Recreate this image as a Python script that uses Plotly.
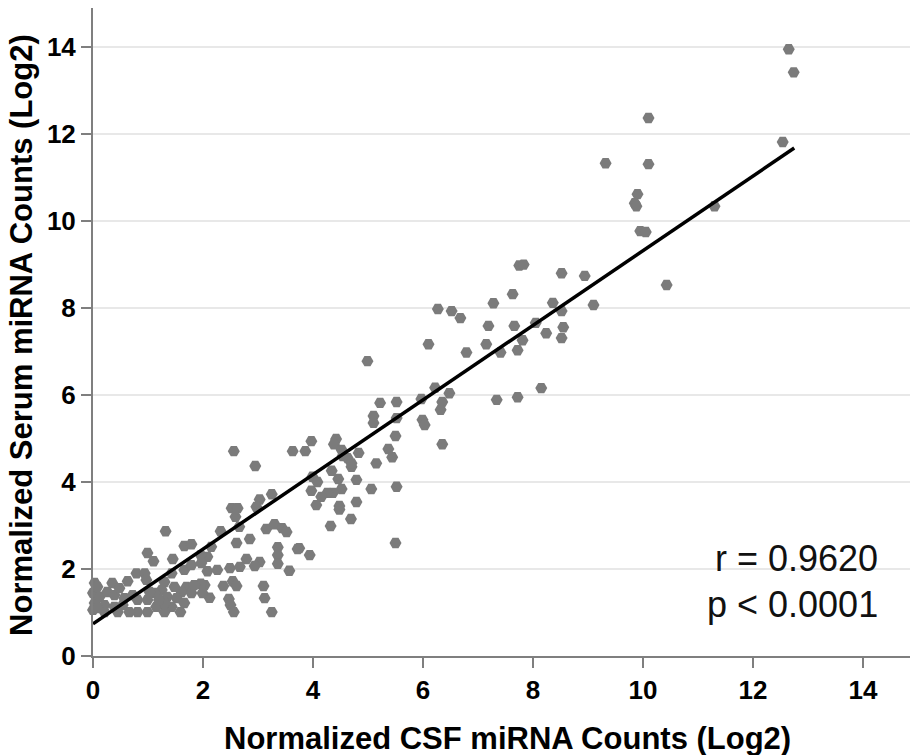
import plotly.graph_objects as go

# Normalized CSF miRNA counts (log2) and serum counts (log2)
csf = [12.65, 12.74, 12.54, 10.10, 9.32, 10.10, 9.90, 9.85, 9.88, 11.30, 9.95, 10.05,
       8.94, 9.10, 10.43, 8.52, 8.52, 8.55, 8.52, 7.75, 7.83, 7.63, 7.28, 8.36, 8.05,
       8.24, 7.19, 7.66, 7.81, 7.15, 7.72, 7.41, 6.79, 6.27, 6.52, 6.68, 6.10, 6.22,
       6.48, 5.97, 6.35, 6.32, 7.34, 7.72, 8.15, 5.99, 6.03, 6.35, 4.99, 5.22, 5.52,
       5.10, 5.10, 5.52, 5.50, 5.37, 5.44, 5.15, 5.52, 5.50, 5.06, 4.79, 4.79, 4.69,
       4.32, 4.48, 4.48, 3.97, 3.86, 4.42, 4.38, 4.52, 4.54, 4.63, 4.70, 4.83, 4.70,
       4.34, 4.46, 4.52, 4.36, 4.26, 4.15, 3.97, 4.06, 3.99, 4.08, 3.75, 3.94, 2.95,
       3.25, 3.03, 2.97, 2.52, 2.63, 2.59, 2.32, 2.66, 2.15, 2.61, 2.85, 3.15, 3.30,
       3.44, 3.52, 3.36, 3.36, 3.72, 2.08, 2.79, 3.03, 3.36, 2.08, 2.26, 2.49, 2.67,
       2.94, 3.57, 2.03, 2.12, 2.37, 2.54, 2.61, 2.47, 2.50, 2.56, 3.10, 3.12, 3.25,
       2.56, 3.63, 1.32, 0.99, 1.10, 1.66, 1.79, 1.45, 1.96,
       0.03, 0.35, 0.63, 0.79, 0.94, 0.97, 1.30, 1.43, 1.66, 1.79, 1.97, 1.96, 1.70,
       1.61, 1.79, 1.25, 1.12, 1.35, 1.52, 1.66, 1.43, 1.59, 1.30, 0.99, 0.81, 0.66,
       0.45, 0.21, 0.00, 0.03, 0.00, 0.12, 0.26, 0.39, 0.48, 0.57, 0.72, 0.81, 0.99,
       1.03, 0.21, 0.39, 0.54, 0.08, 1.15, 1.30, 1.20, 1.99, 1.84, 1.48, 0.08]

serum = [13.95, 13.42, 11.82, 12.37, 11.33, 11.31, 10.62, 10.41, 10.34, 10.34, 9.77, 9.75,
         8.74, 8.07, 8.53, 8.80, 7.93, 7.56, 7.31, 8.98, 9.00, 8.32, 8.11, 8.12, 7.66,
         7.42, 7.59, 7.59, 7.26, 7.17, 7.03, 6.98, 6.98, 7.98, 7.93, 7.77, 7.17, 6.17,
         6.04, 5.91, 5.84, 5.66, 5.89, 5.95, 6.16, 5.43, 5.31, 4.87, 6.78, 5.82, 5.84,
         5.52, 5.36, 5.47, 5.06, 4.76, 4.57, 4.43, 3.89, 2.60, 3.84, 4.05, 3.54, 3.15,
         2.99, 3.45, 3.37, 4.94, 4.71, 4.99, 4.87, 4.74, 4.60, 4.55, 4.35, 4.67, 4.43,
         4.26, 4.07, 3.84, 3.75, 3.75, 3.66, 3.80, 3.47, 4.12, 4.00, 2.48, 2.32, 4.37,
         3.72, 3.60, 3.43, 3.40, 3.40, 3.20, 2.87, 2.97, 2.51, 2.60, 2.69, 2.92, 3.03,
         2.94, 2.85, 2.50, 2.32, 2.46, 2.28, 2.23, 2.16, 2.12, 1.95, 1.98, 2.02, 2.05,
         2.07, 1.96, 1.63, 1.34, 1.61, 1.72, 1.61, 1.31, 1.17, 1.01, 1.61, 1.33, 1.01,
         4.71, 4.71, 2.87, 2.37, 2.18, 2.53, 2.57, 2.23, 2.32,
         1.68, 1.68, 1.72, 1.90, 1.90, 1.75, 1.70, 1.90, 1.98, 2.09, 2.14, 1.66, 1.59,
         1.47, 1.45, 1.52, 1.45, 1.36, 1.33, 1.22, 1.13, 1.01, 1.01, 1.01, 1.01, 1.01,
         1.01, 1.01, 1.06, 1.22, 1.45, 1.36, 1.47, 1.40, 1.56, 1.33, 1.40, 1.29, 1.29,
         1.47, 1.17, 1.13, 1.17, 1.10, 1.13, 1.22, 1.29, 1.45, 1.63, 1.59, 1.59]

# Regression line
fit_intercept = 0.74
fit_slope = 0.858
fit_x = [0.0, 12.75]
fit_y = [fit_intercept + fit_slope * v for v in fit_x]

tick_vals = [0, 2, 4, 6, 8, 10, 12, 14]
tick_text = [str(v) for v in tick_vals]

x_title = "Normalized CSF miRNA Counts (Log2)"
y_title = "Normalized Serum miRNA Counts (Log2)"
stat_lines = ["r = 0.9620", "p < 0.0001"]

FONT = "Liberation Sans, Arial, sans-serif"
AXIS_GRAY = "#7f7f7f"

fig = go.Figure()
fig.add_trace(go.Scatter(
    x=csf, y=serum, mode="markers",
    marker=dict(symbol="hexagon2", size=12, color="#7b7b7b", line=dict(width=0)),
    cliponaxis=False, showlegend=False,
))
fig.add_trace(go.Scatter(
    x=fit_x, y=fit_y, mode="lines",
    line=dict(color="black", width=3.5), showlegend=False,
))

# The page body adds an 8px offset, so the figure is sized to the visible area.
fig.update_layout(
    width=910, height=747,
    margin=dict(l=85, r=0, t=0, b=99, autoexpand=False),
    paper_bgcolor="white", plot_bgcolor="white",
    font=dict(family=FONT, color="black"),
    annotations=[
        dict(text=stat_lines[0], xref="paper", yref="paper", x=0.954, y=0.151,
             xanchor="right", yanchor="middle", showarrow=False,
             font=dict(size=36, family=FONT, color="#111111")),
        dict(text=stat_lines[1], xref="paper", yref="paper", x=0.954, y=0.079,
             xanchor="right", yanchor="middle", showarrow=False,
             font=dict(size=36, family=FONT, color="#111111")),
        dict(text="<b>" + x_title + "</b>", xref="paper", yref="paper", x=0.502, y=-0.128,
             xanchor="center", yanchor="middle", showarrow=False,
             font=dict(size=31, family=FONT, color="black")),
        dict(text="<b>" + y_title + "</b>", xref="paper", yref="paper", x=-0.0865, y=0.495,
             xanchor="center", yanchor="middle", showarrow=False, textangle=-90,
             font=dict(size=31, family=FONT, color="black")),
    ],
)
fig.update_xaxes(
    range=[0, 15], tickvals=tick_vals, ticktext=tick_text,
    showgrid=False, zeroline=False, automargin=False,
    showline=True, linecolor=AXIS_GRAY, linewidth=2,
    ticks="outside", ticklen=10, tickwidth=2, tickcolor=AXIS_GRAY,
    tickfont=dict(size=26, family=FONT, color="black", weight="bold"),
)
fig.update_yaxes(
    range=[0, 14.9], tickvals=tick_vals, ticktext=tick_text,
    showgrid=True, gridcolor="#e8e8e8", gridwidth=2, zeroline=False, automargin=False,
    showline=True, linecolor=AXIS_GRAY, linewidth=2,
    ticks="outside", ticklen=10, tickwidth=2, tickcolor=AXIS_GRAY,
    tickfont=dict(size=26, family=FONT, color="black", weight="bold"),
)

fig.write_html("out.html")
